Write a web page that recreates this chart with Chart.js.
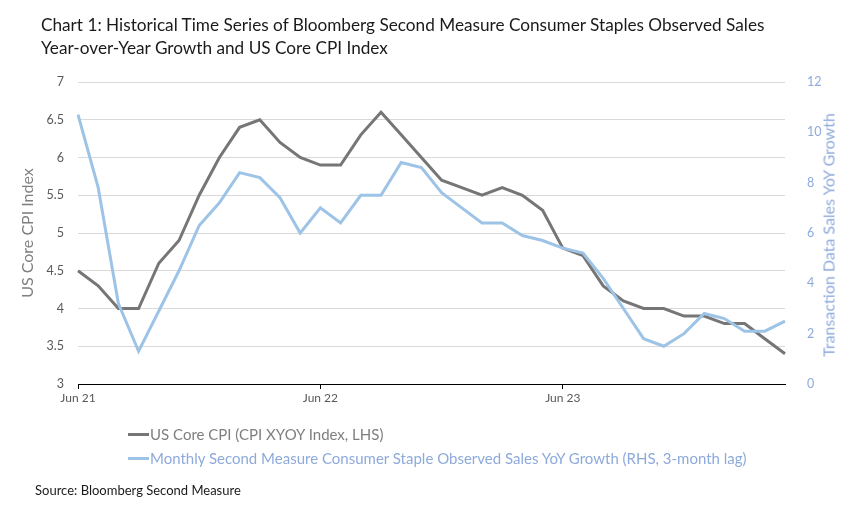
<!DOCTYPE html>
<html>
<head>
<meta charset="utf-8">
<script src="https://cdn.jsdelivr.net/npm/chart.js@4.4.1/dist/chart.umd.min.js"></script>
<style>
  body { margin: 0; width: 862px; height: 511px; overflow: hidden; background: #fff; font-family: Lato, "Open Sans", sans-serif; position: relative; }
  canvas { position: absolute; left: 0; top: 0; }
  .title { position: absolute; left: 41px; top: 13px; font-size: 17.2px; line-height: 23px; color: #1a1a1a; white-space: nowrap; }
  .rtitle { position: absolute; left: 828px; top: 235px; transform: translate(-50%, -50%) rotate(-90deg); font-size: 16px; color: #8eaadb; white-space: nowrap; }
  .legend { position: absolute; left: 128px; top: 422px; font-size: 15px; line-height: 24px; }
  .legend div { display: flex; align-items: center; white-space: nowrap; }
  .legend span.sw { display: inline-block; width: 21px; height: 3px; margin-right: 1px; }
  .source { position: absolute; left: 35px; top: 482px; font-size: 13px; line-height: 16px; color: #1a1a1a; }
</style>
</head>
<body>
<canvas id="chart" width="862" height="511"></canvas>
<div class="title">Chart 1: Historical Time Series of Bloomberg Second Measure Consumer Staples Observed Sales<br>Year-over-Year Growth and US Core CPI Index</div>
<div class="rtitle">Transaction Data Sales YoY Growth</div>
<div class="legend">
  <div style="color:#7f7f7f"><span class="sw" style="background:#767676"></span>US Core CPI (CPI XYOY Index, LHS)</div>
  <div style="color:#8eaadb"><span class="sw" style="background:#9dc3e6"></span>Monthly Second Measure Consumer Staple Observed Sales YoY Growth (RHS, 3-month lag)</div>
</div>
<div class="source">Source: Bloomberg Second Measure</div>
<script>
const months = [
  "Jun 21", "Jul 21", "Aug 21", "Sep 21", "Oct 21", "Nov 21", "Dec 21",
  "Jan 22", "Feb 22", "Mar 22", "Apr 22", "May 22", "Jun 22", "Jul 22", "Aug 22", "Sep 22", "Oct 22", "Nov 22", "Dec 22",
  "Jan 23", "Feb 23", "Mar 23", "Apr 23", "May 23", "Jun 23", "Jul 23", "Aug 23", "Sep 23", "Oct 23", "Nov 23", "Dec 23",
  "Jan 24", "Feb 24", "Mar 24", "Apr 24", "May 24"
];
const shownTicks = ["Jun 21", "Jun 22", "Jun 23"];

// US Core CPI, YoY %, left axis
const coreCpi = [
  4.5, 4.3, 4.0, 4.0, 4.6, 4.9, 5.5,
  6.0, 6.4, 6.5, 6.2, 6.0, 5.9, 5.9, 6.3, 6.6, 6.3, 6.0, 5.7,
  5.6, 5.5, 5.6, 5.5, 5.3, 4.8, 4.7, 4.3, 4.1, 4.0, 4.0, 3.9,
  3.9, 3.8, 3.8, 3.6, 3.4
];

// observed sales YoY growth %, right axis
const salesGrowth = [
  10.7, 7.8, 3.2, 1.3, 2.9, 4.5, 6.3,
  7.2, 8.4, 8.2, 7.4, 6.0, 7.0, 6.4, 7.5, 7.5, 8.8, 8.6, 7.6,
  7.0, 6.4, 6.4, 5.9, 5.7, 5.4, 5.2, 4.2, 3.0, 1.8, 1.5, 2.0,
  2.8, 2.6, 2.1, 2.1, 2.5
];

const tickFont = { family: "Lato, sans-serif", size: 12.5 };

new Chart(document.getElementById("chart"), {
  type: "line",
  data: {
    labels: months,
    datasets: [
      {
        label: "US Core CPI (CPI XYOY Index, LHS)",
        data: coreCpi,
        yAxisID: "y",
        borderColor: "#767676",
        borderWidth: 3,
        pointRadius: 0,
        tension: 0,
        order: 2
      },
      {
        label: "Monthly Second Measure Consumer Staple Observed Sales YoY Growth (RHS, 3-month lag)",
        data: salesGrowth,
        yAxisID: "y1",
        borderColor: "#9dc3e6",
        borderWidth: 3,
        pointRadius: 0,
        tension: 0,
        order: 1
      }
    ]
  },
  options: {
    responsive: false,
    animation: false,
    devicePixelRatio: 1,
    layout: { padding: { top: 82, bottom: 97, left: 0, right: 0 } },
    plugins: { legend: { display: false }, tooltip: { enabled: false } },
    scales: {
      x: {
        offset: false,
        afterFit: (s) => { s.height = 30; },
        border: { color: "#000", width: 1 },
        grid: {
          drawOnChartArea: false,
          drawTicks: true,
          tickLength: 5,
          color: (c) => shownTicks.includes(months[c.index]) ? "#000" : "rgba(0,0,0,0)"
        },
        ticks: {
          autoSkip: false,
          maxRotation: 0,
          padding: 2,
          color: "#595959",
          font: { family: "Lato, sans-serif", size: 12 },
          callback: (v, i) => shownTicks.includes(months[i]) ? months[i] : ""
        }
      },
      y: {
        position: "left",
        min: 3,
        max: 7,
        afterFit: (s) => { s.width = 78; },
        border: { display: false },
        grid: {
          drawTicks: false,
          color: (c) => c.tick && c.tick.value === 3 ? "rgba(0,0,0,0)" : "#d9d9d9"
        },
        ticks: {
          stepSize: 0.5,
          padding: 14,
          color: "#595959",
          font: tickFont,
          callback: (v) => String(+v.toFixed(1))
        },
        title: {
          display: true,
          text: "US Core CPI Index",
          color: "#7f7f7f",
          font: { family: "Lato, sans-serif", size: 16 },
          padding: { top: 18, bottom: 0 }
        }
      },
      y1: {
        position: "right",
        min: 0,
        max: 12,
        afterFit: (s) => { s.width = 77; },
        border: { display: false },
        grid: { display: false },
        ticks: {
          stepSize: 2,
          padding: 14,
          color: "#8eaadb",
          font: tickFont
        }
      }
    }
  }
});
</script>
</body>
</html>
